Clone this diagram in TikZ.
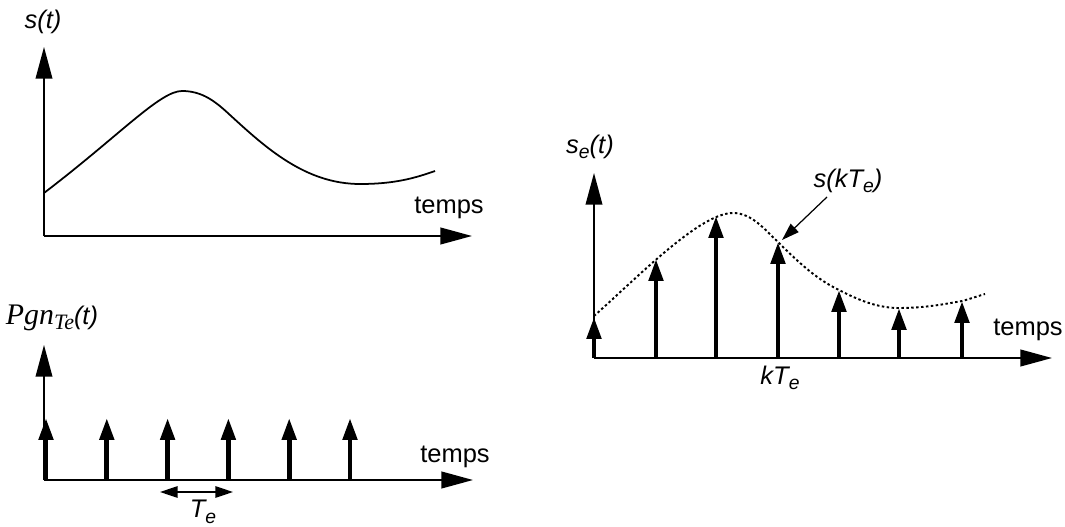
\documentclass[tikz,border=0pt]{standalone}
\usepackage{fontspec}
\usepackage{tikz}
\usetikzlibrary{arrows.meta,positioning}
\newfontfamily\arialfont{Liberation Sans}
\newfontfamily\timesfont{Liberation Serif}

\begin{document}
\begin{tikzpicture}[
  x=0.02cm, y=-0.02cm,
  axis/.style={line width=1.1pt, -{Triangle[length=18pt, width=9.5pt]}},
  vaxis/.style={line width=0.8pt, -{Triangle[length=18pt, width=9.5pt]}},
  dirac/.style={line width=2.7pt, -{Triangle[length=12.5pt, width=8pt]}},
  period/.style={line width=0.8pt, {Triangle[length=10pt, width=6.5pt]}-{Triangle[length=10pt, width=6.5pt]}},
  pointer/.style={line width=0.7pt, -{Triangle[length=10pt, width=6.5pt]}},
  lbl/.style={font=\arialfont\fontsize{14.5}{17}\selectfont, inner sep=0pt},
  signal/.style={line width=1pt},
  sampled/.style={line width=1.1pt, dash pattern=on 1.4pt off 1.4pt}
]
\useasboundingbox (0,0) rectangle (1065,527);

% --- signal analogique s(t)
\coordinate (o1) at (44,236);
\draw[vaxis] (o1) -- (44,47);
\draw[axis] (o1) -- (472,236);
\node[lbl] (st) at (43,22) {\itshape s(t)};
\node[lbl] (temps1) at (449,208) {temps};
\draw[signal] (44,193) .. controls (120,135) and (160,91) .. (182,91)
  .. controls (202,91) and (215,101) .. (230,115)
  .. controls (265,147) and (305,184) .. (360,184)
  .. controls (395,184) and (415,178) .. (435,171);

% --- peigne de Dirac
\coordinate (o2) at (44,480);
\draw[vaxis] (o2) -- (44,345);
\draw[axis] (o2) -- (473,480);
\foreach \k in {0,...,5}
  \draw[dirac] (46+60.8*\k,480) -- (46+60.8*\k,418);
\node[lbl] (pgn) at (52,318) {\timesfont\itshape\fontsize{17}{19}\selectfont Pgn\raisebox{-0.35ex}{\fontsize{12.5}{14}\selectfont Te}\arialfont\fontsize{14.5}{17}\selectfont(t)};
\node[lbl] (temps2) at (455,457) {temps};
\coordinate (ta) at (160,492);
\coordinate (tb) at (233,492);
\draw[period] (ta) -- (tb);
\node[lbl] (te) at (203,512) {\itshape T\raisebox{-0.4ex}{\fontsize{11}{13}\selectfont e}};

% --- signal echantillonne
\coordinate (o3) at (594,358);
\draw[vaxis] (o3) -- (594,173);
\draw[axis] (o3) -- (1052,358);
\foreach \x/\y in {594/317, 656/259, 716/216, 778/242, 839/290, 899/308, 962/301}
  \draw[dirac] (\x,358) -- (\x,\y);
\draw[sampled] (594,316) .. controls (640,275) and (700,213) .. (733,213)
  .. controls (752,213) and (765,230) .. (778,242)
  .. controls (800,264) and (818,280) .. (839,290)
  .. controls (862,302) and (880,308) .. (899,308)
  .. controls (925,308) and (945,304) .. (962,301)
  .. controls (970,299) and (978,296) .. (985,294);
\node[lbl] (se) at (590,147) {\itshape s\raisebox{-0.4ex}{\fontsize{11}{13}\selectfont e}(t)};
\node[lbl] (skte) at (848,181) {\itshape s(kT\raisebox{-0.4ex}{\fontsize{11}{13}\selectfont e})};
\coordinate (p0) at (827,197);
\coordinate (ech) at (782,240);
\draw[pointer] (p0) -- (ech);
\node[lbl] (kte) at (780,378) {\itshape kT\raisebox{-0.4ex}{\fontsize{11}{13}\selectfont e}};
\node[lbl] (temps3) at (1028,330) {temps};
\end{tikzpicture}
\end{document}
